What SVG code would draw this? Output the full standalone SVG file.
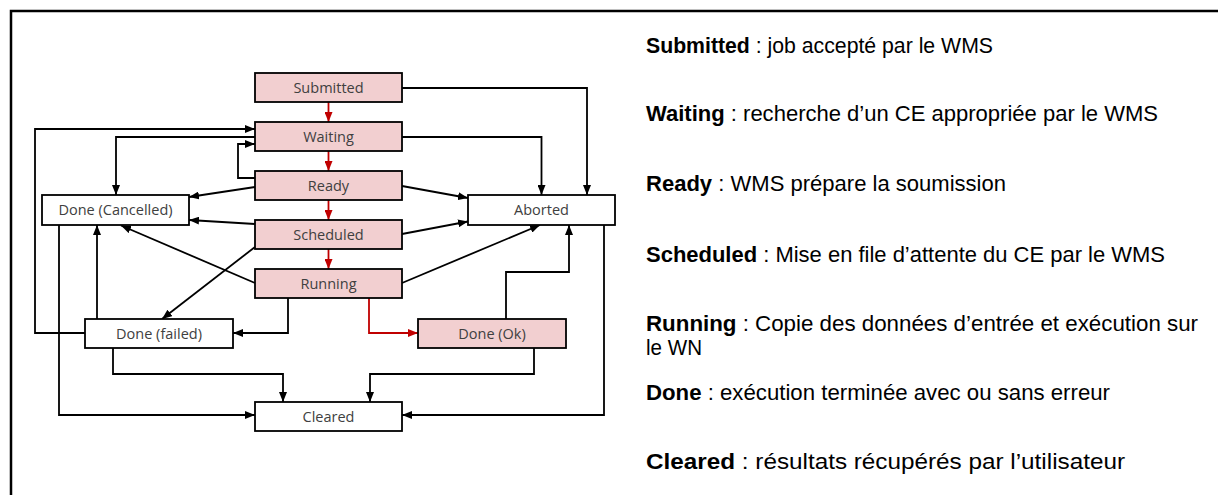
<svg xmlns="http://www.w3.org/2000/svg" width="1218" height="495" viewBox="0 0 1218 495">
<style>
.box{stroke:#000;stroke-width:1.8}
.pink{fill:#f2cfd0}
.white{fill:#fff}
.lbl{font-family:"Open Sans","Liberation Sans",Arial,sans-serif;font-size:14.5px;fill:#404040;text-anchor:middle}
.c{fill:none;stroke:#000;stroke-width:1.8}
.r{fill:none;stroke:#c00000;stroke-width:1.8}
.desc{font-family:"Liberation Sans Narrow","Liberation Sans",Arial,sans-serif;font-size:22px;fill:#000}
.b{font-weight:bold}
</style>
<defs>
<marker id="ab" viewBox="0 0 10 8" refX="10" refY="4" markerWidth="10" markerHeight="8" markerUnits="userSpaceOnUse" orient="auto"><path d="M0,0 L10,4 L0,8 z" fill="#000"/></marker>
<marker id="ar" viewBox="0 0 10 8" refX="10" refY="4" markerWidth="10" markerHeight="8" markerUnits="userSpaceOnUse" orient="auto"><path d="M0,0 L10,4 L0,8 z" fill="#c00000"/></marker>
</defs>
<rect width="1218" height="495" fill="#fff"/>
<path d="M11,495 V11 H1218" fill="none" stroke="#000" stroke-width="2.5"/>
<g id="connectors">
<path class="r" d="M328.5,102 V122" marker-end="url(#ar)"/>
<path class="r" d="M328.5,151 V171" marker-end="url(#ar)"/>
<path class="r" d="M328.5,200 V220" marker-end="url(#ar)"/>
<path class="r" d="M328.5,249 V269" marker-end="url(#ar)"/>
<path class="r" d="M369,298 V333 H418" marker-end="url(#ar)"/>
<path class="c" d="M402,88 H587 V195" marker-end="url(#ab)"/>
<path class="c" d="M402,137 H541.5 V195" marker-end="url(#ab)"/>
<path class="c" d="M402,186 L468,198" marker-end="url(#ab)"/>
<path class="c" d="M402,234 L468,221.5" marker-end="url(#ab)"/>
<path class="c" d="M402,283 L540,225" marker-end="url(#ab)"/>
<path class="c" d="M506,319 V272 H569 V225" marker-end="url(#ab)"/>
<path class="c" d="M604,225 V415 H402" marker-end="url(#ab)"/>
<path class="c" d="M534,348 V374 H370 V402" marker-end="url(#ab)"/>
<path class="c" d="M113,348 V374 H283 V402" marker-end="url(#ab)"/>
<path class="c" d="M59,225 V415 H255" marker-end="url(#ab)"/>
<path class="c" d="M288,298 V333 H233" marker-end="url(#ab)"/>
<path class="c" d="M85,333 H35 V129 H255" marker-end="url(#ab)"/>
<path class="c" d="M97,319 V225" marker-end="url(#ab)"/>
<path class="c" d="M255,137 H116 V195" marker-end="url(#ab)"/>
<path class="c" d="M255,178 H238 V144 H255" marker-end="url(#ab)"/>
<path class="c" d="M255,187 L189,197" marker-end="url(#ab)"/>
<path class="c" d="M255,224 L189,220" marker-end="url(#ab)"/>
<path class="c" d="M255,283 L121,225.5" marker-end="url(#ab)"/>
<path class="c" d="M255,247 L162,319" marker-end="url(#ab)"/>
</g>
<g id="submitted"><rect class="box pink" x="255" y="73" width="147" height="29"/><text class="lbl" x="328.5" y="92.5">Submitted</text></g>
<g id="waiting"><rect class="box pink" x="255" y="122" width="147" height="29"/><text class="lbl" x="328.5" y="141.5">Waiting</text></g>
<g id="ready"><rect class="box pink" x="255" y="171" width="147" height="29"/><text class="lbl" x="328.5" y="190.5">Ready</text></g>
<g id="scheduled"><rect class="box pink" x="255" y="220" width="147" height="29"/><text class="lbl" x="328.5" y="239.5">Scheduled</text></g>
<g id="running"><rect class="box pink" x="255" y="269" width="147" height="29"/><text class="lbl" x="328.5" y="288.5">Running</text></g>
<g id="cancelled"><rect class="box white" x="42" y="195" width="147" height="30"/><text class="lbl" x="115.5" y="215">Done (Cancelled)</text></g>
<g id="aborted"><rect class="box white" x="468" y="195" width="147" height="30"/><text class="lbl" x="541.5" y="215">Aborted</text></g>
<g id="failed"><rect class="box white" x="85" y="319" width="148" height="29"/><text class="lbl" x="159" y="338.5">Done (failed)</text></g>
<g id="ok"><rect class="box pink" x="418" y="319" width="148" height="29"/><text class="lbl" x="492" y="338.5">Done (Ok)</text></g>
<g id="cleared"><rect class="box white" x="255" y="402" width="147" height="29"/><text class="lbl" x="328.5" y="421.5">Cleared</text></g>
<g id="legend">
<text class="desc" x="646" y="53" textLength="347" lengthAdjust="spacingAndGlyphs"><tspan class="b">Submitted</tspan> : job accepté par le WMS</text>
<text class="desc" x="646" y="121" textLength="512" lengthAdjust="spacingAndGlyphs"><tspan class="b">Waiting</tspan> : recherche d’un CE appropriée par le WMS</text>
<text class="desc" x="646" y="191" textLength="360" lengthAdjust="spacingAndGlyphs"><tspan class="b">Ready</tspan> : WMS prépare la soumission</text>
<text class="desc" x="646" y="262" textLength="519" lengthAdjust="spacingAndGlyphs"><tspan class="b">Scheduled</tspan> : Mise en file d’attente du CE par le WMS</text>
<text class="desc" x="646" y="331" textLength="552" lengthAdjust="spacingAndGlyphs"><tspan class="b">Running</tspan> : Copie des données d’entrée et exécution sur</text>
<text class="desc" x="646" y="355" textLength="56" lengthAdjust="spacingAndGlyphs">le WN</text>
<text class="desc" x="646" y="400" textLength="464" lengthAdjust="spacingAndGlyphs"><tspan class="b">Done</tspan> : exécution terminée avec ou sans erreur</text>
<text class="desc" x="646" y="469" textLength="479" lengthAdjust="spacingAndGlyphs"><tspan class="b">Cleared</tspan> : résultats récupérés par l’utilisateur</text>
</g>
</svg>
